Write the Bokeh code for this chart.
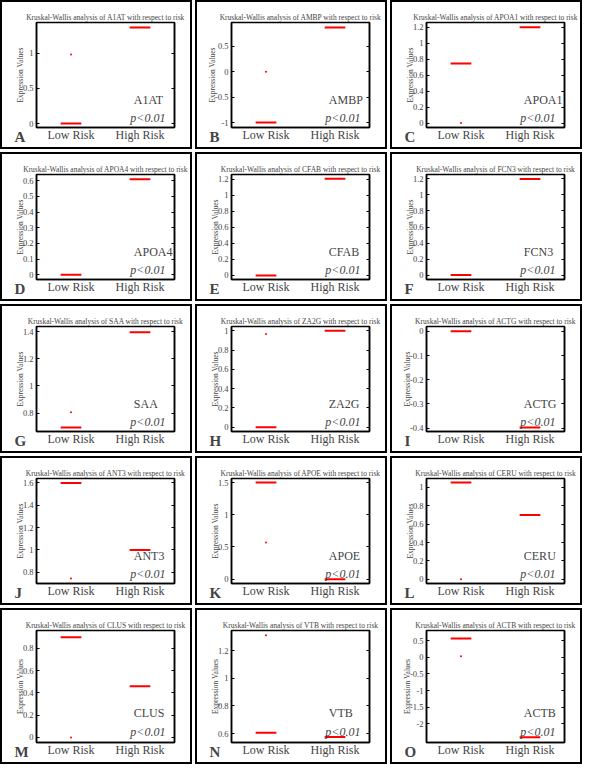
from bokeh.plotting import figure
from bokeh.layouts import column, row
from bokeh.models import (Range1d, FixedTicker, NumeralTickFormatter, LinearAxis, Label,
                          ColumnDataSource, Title)
from bokeh.embed import file_html
from bokeh.resources import INLINE

# ---------------- data ----------------
genes = ["A1AT", "AMBP", "APOA1", "APOA4", "CFAB", "FCN3", "SAA", "ZA2G",
         "ACTG", "ANT3", "APOE", "CERU", "CLUS", "VTB", "ACTB"]
letters = ["A", "B", "C", "D", "E", "F", "G", "H", "I", "J", "K", "L", "M", "N", "O"]
group_labels = ["Low Risk", "High Risk"]
group_pos = [1, 2]

low_median = [0.0, -1.0, 0.745, 0.0, 0.0, 0.0, 0.694, 0.0, 0.0, 1.595, 1.5, 1.055, 0.9, 0.605, 0.56]
high_median = [1.363, 0.873, 1.2, 0.61, 1.21, 1.2, 1.395, 1.0, -0.397, 1.0, 0.0, 0.701, 0.46, 0.575, -2.4]
low_outlier = [0.98, 0.0, 0.0, None, None, None, 0.805, 0.966, None, 0.747, 0.569, 0.0, 0.0, 1.31, 0.03]

y_limits = [(-0.056, 1.433), (-1.097, 0.969), (-0.055, 1.26), (-0.03, 0.64), (-0.05, 1.262),
            (-0.055, 1.255), (0.664, 1.437), (-0.045, 1.045), (-0.414, 0.02), (0.702, 1.636),
            (-0.067, 1.563), (-0.047, 1.098), (-0.045, 0.96), (0.535, 1.345), (-2.56, 0.8)]

y_ticks = [
    [0, 0.5, 1],
    [-1, -0.5, 0, 0.5],
    [0, 0.2, 0.4, 0.6, 0.8, 1, 1.2],
    [0, 0.1, 0.2, 0.3, 0.4, 0.5, 0.6],
    [0, 0.2, 0.4, 0.6, 0.8, 1, 1.2],
    [0, 0.2, 0.4, 0.6, 0.8, 1, 1.2],
    [0.8, 1, 1.2, 1.4],
    [0, 0.2, 0.4, 0.6, 0.8, 1],
    [-0.4, -0.3, -0.2, -0.1, 0],
    [0.8, 1, 1.2, 1.4, 1.6],
    [0, 0.5, 1, 1.5],
    [0, 0.2, 0.4, 0.6, 0.8, 1],
    [0, 0.2, 0.4, 0.6, 0.8],
    [0.6, 0.8, 1, 1.2],
    [-2, -1.5, -1, -0.5, 0, 0.5],
]
p_text = "p<0.01"

# ---------------- style ----------------
FONT = "Liberation Serif"
W = 188
H_ROW = 145
H_LAST = 152
HALF = 0.15
GAP = 3


def make_panel(i, h):
    y0, y1 = y_limits[i]
    fig = figure(width=W, height=h, output_backend="svg", toolbar_location=None, tools="",
                 x_range=Range1d(0.5, 2.5), y_range=Range1d(y0, y1),
                 min_border_left=34, min_border_right=20, min_border_top=20, min_border_bottom=24,
                 title=f"Kruskal-Wallis analysis of {genes[i]} with respect to risk",
                 background_fill_color="white", border_fill_color="white",
                 styles={"border": "2px solid black", "box-sizing": "content-box"})
    fig.title.align = "center"
    fig.title.text_font = FONT
    fig.title.text_font_size = "7.5px"
    fig.title.text_font_style = "normal"
    fig.title.standoff = 2
    fig.grid.visible = False
    fig.outline_line_color = "black"
    fig.outline_line_width = 1.5
    fig.outline_line_alpha = 1

    xa = fig.xaxis[0]
    xa.ticker = FixedTicker(ticks=group_pos)
    xa.major_label_overrides = {p: l for p, l in zip(group_pos, group_labels)}
    xa.major_tick_in = 0
    xa.major_tick_out = 0
    xa.minor_tick_line_color = None
    xa.major_label_standoff = 0
    xa.major_label_text_font = FONT
    xa.major_label_text_font_size = "12px"
    xa.axis_line_color = "black"
    xa.axis_line_width = 1.5

    ya = fig.yaxis[0]
    ya.ticker = FixedTicker(ticks=y_ticks[i])
    ya.formatter = NumeralTickFormatter(format="0.[00]")
    ya.major_tick_in = 3
    ya.major_tick_out = 0
    ya.minor_tick_line_color = None
    ya.major_label_standoff = 3
    ya.major_label_text_font = FONT
    ya.major_label_text_font_size = "8.5px"
    ya.axis_label = "Expression Values"
    ya.axis_label_text_font = FONT
    ya.axis_label_text_font_size = "7.5px"
    ya.axis_label_text_font_style = "normal"
    ya.axis_label_standoff = -5
    ya.axis_line_width = 1.5

    ra = LinearAxis(ticker=FixedTicker(ticks=y_ticks[i]), major_label_text_color=None,
                    major_tick_in=3, major_tick_out=0, minor_tick_line_color=None,
                    major_label_standoff=0, axis_line_color="black", axis_line_width=1.5)
    fig.add_layout(ra, "right")

    # panel letter, placed under the frame to the left of the x labels
    fig.add_layout(Title(text=letters[i], align="left", offset=-22, vertical_align="top",
                         standoff=-32, text_font=FONT, text_font_size="15px",
                         text_font_style="bold"), "below")

    src = ColumnDataSource(dict(
        x0=[g - HALF for g in group_pos], x1=[g + HALF for g in group_pos],
        y=[low_median[i], high_median[i]]))
    fig.segment(x0="x0", y0="y", x1="x1", y1="y", source=src, line_color="red", line_width=2)

    if low_outlier[i] is not None:
        fig.scatter(x=[group_pos[0]], y=[low_outlier[i]], size=2, fill_color="red",
                    line_color=None, marker="circle")

    span = y1 - y0
    fig.add_layout(Label(x=1.91, y=y0 + 0.26 * span, text=genes[i], text_font=FONT,
                         text_font_size="12px", text_baseline="middle", text_align="left"))
    fig.add_layout(Label(x=1.86, y=y0 + 0.095 * span, text=p_text, text_font=FONT,
                         text_font_size="12px", text_font_style="italic",
                         text_baseline="middle", text_align="left"))
    return fig


rows = []
for r in range(5):
    h = H_LAST if r == 4 else H_ROW
    figs = [make_panel(r * 3 + c, h) for c in range(3)]
    rows.append(row(*figs, spacing=GAP))
layout = column(*rows, spacing=GAP)

open("out.html", "w").write(file_html(layout, INLINE))
